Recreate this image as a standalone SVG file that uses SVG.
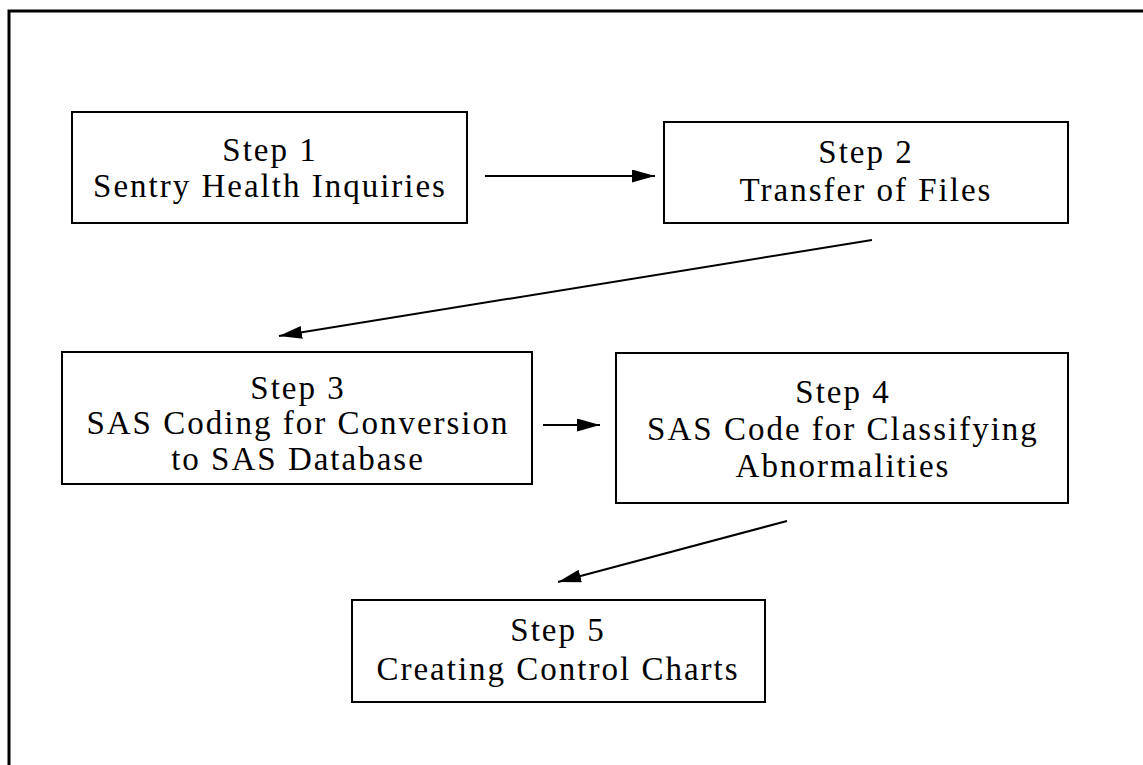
<svg xmlns="http://www.w3.org/2000/svg" width="1143" height="765" viewBox="0 0 1143 765">
<style>
.box{fill:#fff;stroke:#000;stroke-width:2}
.t{font-family:"Liberation Serif","Times New Roman",serif;font-size:33px;letter-spacing:2px;fill:#000;text-anchor:middle}
.c{stroke:#000;stroke-width:2;fill:none;marker-end:url(#ah)}
.frame{stroke:#000;stroke-width:3;fill:none}
</style>
<defs>
<marker id="ah" markerUnits="userSpaceOnUse" markerWidth="24" markerHeight="14" refX="23" refY="6.5" orient="auto">
<path d="M0,0 L23,6.5 L0,13 Z" fill="#000"/>
</marker>
</defs>
<rect width="1143" height="765" fill="#fff"/>
<path class="frame" d="M9,765 L9,11 L1143,11"/>
<g id="step1">
<rect class="box" x="72" y="112" width="395" height="111"/>
<text class="t" x="270" y="161">Step 1</text>
<text class="t" x="270" y="197">Sentry Health Inquiries</text>
</g>
<g id="step2">
<rect class="box" x="664" y="122" width="404" height="101"/>
<text class="t" x="866" y="163">Step 2</text>
<text class="t" x="866" y="201">Transfer of Files</text>
</g>
<g id="step3">
<rect class="box" x="62" y="352" width="470" height="132"/>
<text class="t" x="298" y="399">Step 3</text>
<text class="t" x="298" y="434">SAS Coding for Conversion</text>
<text class="t" x="298" y="470">to SAS Database</text>
</g>
<g id="step4">
<rect class="box" x="616" y="353" width="452" height="150"/>
<text class="t" x="843" y="403">Step 4</text>
<text class="t" x="843" y="440">SAS Code for Classifying</text>
<text class="t" x="843" y="477">Abnormalities</text>
</g>
<g id="step5">
<rect class="box" x="352" y="600" width="413" height="102"/>
<text class="t" x="558" y="641">Step 5</text>
<text class="t" x="558" y="680">Creating Control Charts</text>
</g>
<g id="connectors">
<line class="c" x1="485" y1="176" x2="655" y2="176"/>
<line class="c" x1="872" y1="240" x2="279" y2="336"/>
<line class="c" x1="543" y1="425" x2="600" y2="425"/>
<line class="c" x1="787" y1="521" x2="558" y2="582"/>
</g>
</svg>
